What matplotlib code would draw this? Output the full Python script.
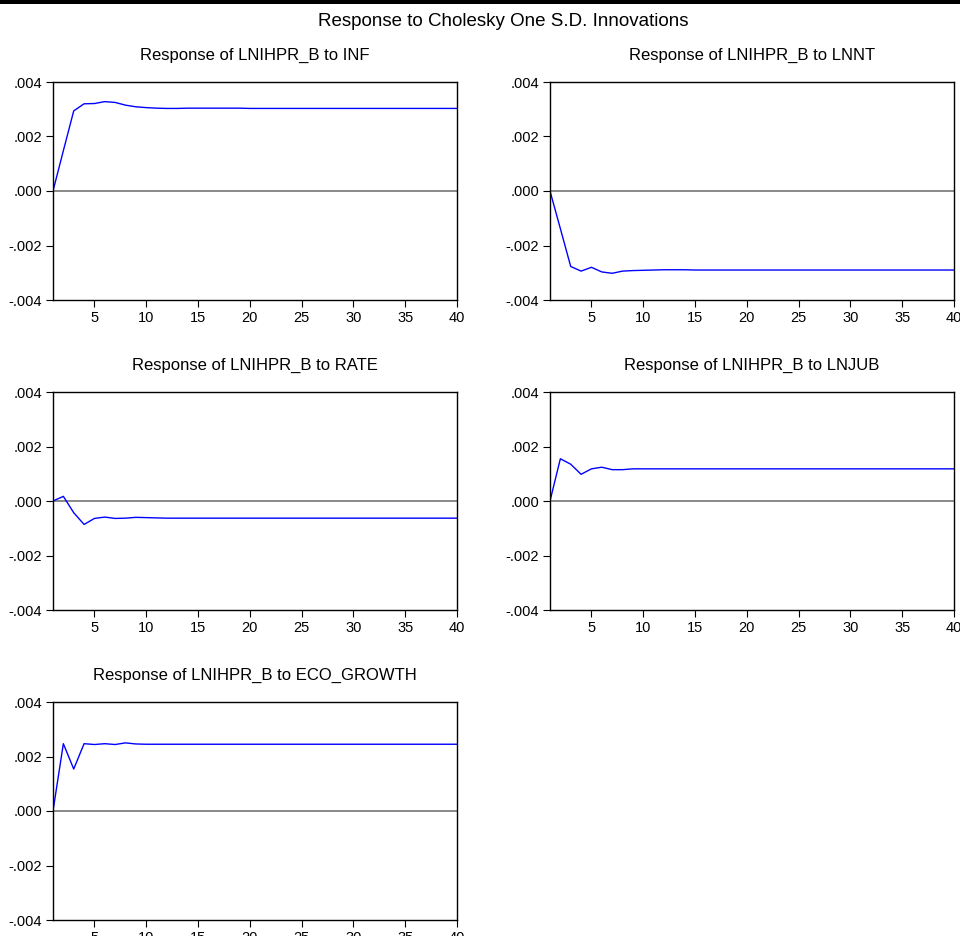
import matplotlib
matplotlib.use("Agg")
import matplotlib.pyplot as plt
import numpy as np
from matplotlib.patches import Rectangle

plt.rcParams['font.family'] = ['Liberation Sans', 'DejaVu Sans']

periods = np.arange(1, 41)

inf = [0.0, 0.00148, 0.00294, 0.00320, 0.00321, 0.00328, 0.00325, 0.00315, 0.00309, 0.00306,
       0.00304, 0.00303, 0.00303, 0.00304, 0.00304, 0.00304, 0.00304, 0.00304, 0.00304, 0.00303] + [0.00303] * 20
lnnt = [0.0, -0.00138, -0.00277, -0.00294, -0.00280, -0.00297, -0.00302, -0.00294, -0.00292, -0.00291,
        -0.00290, -0.00289, -0.00289, -0.00289, -0.00290] + [-0.00290] * 25
rate = [0.0, 0.00017, -0.00043, -0.00086, -0.00064, -0.00059, -0.00064, -0.00063, -0.00060, -0.00061,
        -0.00062] + [-0.00063] * 29
lnjub = [0.0, 0.00155, 0.00135, 0.00098, 0.00118, 0.00124, 0.00115, 0.00115, 0.00118] + [0.00118] * 31
eco_growth = [0.0, 0.00247, 0.00154, 0.00247, 0.00244, 0.00247, 0.00244, 0.00250, 0.00246, 0.00245,
              0.00245] + [0.00245] * 29

shocks = ['INF', 'LNNT', 'RATE', 'LNJUB', 'ECO_GROWTH']
responses = [inf, lnnt, rate, lnjub, eco_growth]

yticks = [-0.004, -0.002, 0.0, 0.002, 0.004]
ytick_labels = ['-.004', '-.002', '.000', '.002', '.004']
xticks = [5, 10, 15, 20, 25, 30, 35, 40]

W, H = 960, 936
fig = plt.figure(figsize=(W / 100, H / 100), dpi=100)
fig.patches.append(Rectangle((0, 1 - 4 / H), 1, 4 / H, transform=fig.transFigure,
                             facecolor='black', edgecolor='none'))

fig.text(503 / W, 1 - 22 / H, 'Response to Cholesky One S.D. Innovations',
         ha='center', va='center', fontsize=13.5)

# pixel boxes (left, top) of each panel
lefts = [53, 550, 53, 550, 53]
tops = [82, 82, 392, 392, 702]
pw, ph = 404, 218

for i, (shock, ys) in enumerate(zip(shocks, responses)):
    ax = fig.add_axes([lefts[i] / W, 1 - (tops[i] + ph) / H, pw / W, ph / H])
    ax.axhline(0, color='#808080', lw=1.3, zorder=1)
    ax.plot(periods, ys, color='#0000ff', lw=1.0, zorder=2)
    ax.set_xlim(1, 40)
    ax.set_ylim(-0.004, 0.004)
    ax.set_yticks(yticks)
    ax.set_yticklabels(ytick_labels)
    ax.set_xticks(xticks)
    ax.tick_params(direction='out', length=5, width=0.8, labelsize=10.5, pad=3, colors='black')
    for s in ax.spines.values():
        s.set_linewidth(1.0)
    ax.set_title('Response of LNIHPR_B to ' + shock, fontsize=12, pad=16)

fig.savefig('out.png', dpi=100)
